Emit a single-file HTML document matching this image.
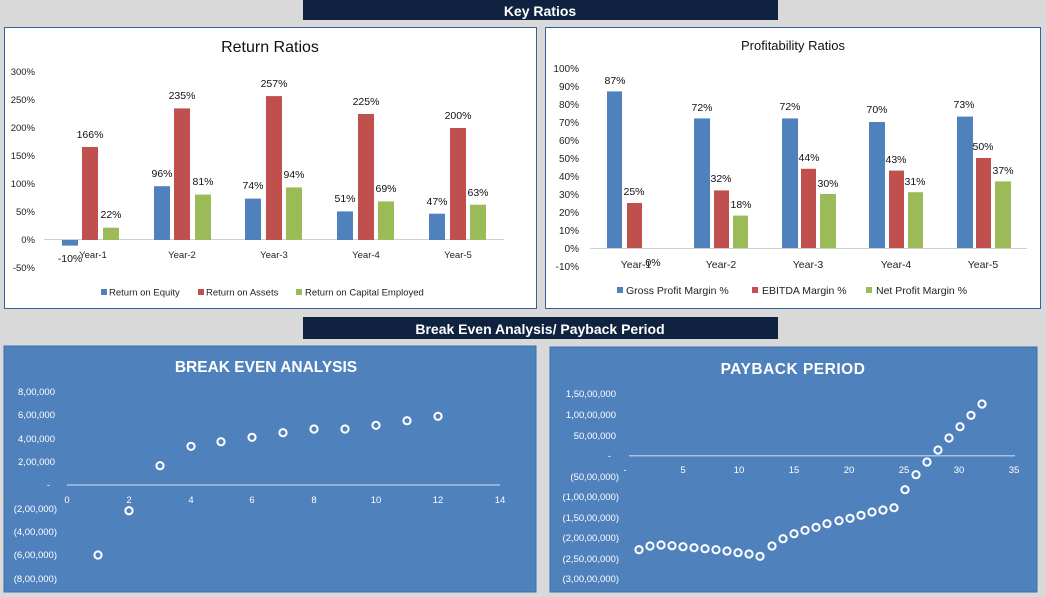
<!DOCTYPE html>
<html><head><meta charset="utf-8"><style>
html,body{margin:0;padding:0;background:#d9d9d9;}
svg{display:block;font-family:"Liberation Sans",sans-serif;}
</style></head><body>
<svg width="1046" height="597" viewBox="0 0 1046 597" xmlns="http://www.w3.org/2000/svg">
<rect width="1046" height="597" fill="#d9d9d9"/>
<rect x="303" y="0" width="475" height="20" fill="#0f2340"/>
<text x="540" y="16" font-size="14" font-weight="bold" fill="#fff" text-anchor="middle">Key Ratios</text>
<rect x="303" y="317" width="475" height="22" fill="#0f2340"/>
<text x="540" y="334" font-size="14" font-weight="bold" fill="#fff" text-anchor="middle">Break Even Analysis/ Payback Period</text>

<rect x="4.5" y="27.5" width="532" height="281" fill="#fff" stroke="#3a5f9a" stroke-width="1"/>
<text x="270" y="52" font-size="16" fill="#111" text-anchor="middle">Return Ratios</text>
<g font-size="9.5" fill="#222" text-anchor="end">
<text x="35" y="75">300%</text><text x="35" y="103">250%</text><text x="35" y="131">200%</text>
<text x="35" y="159">150%</text><text x="35" y="187">100%</text><text x="35" y="215">50%</text>
<text x="35" y="243">0%</text><text x="35" y="271">-50%</text>
</g>
<line x1="44" y1="239.5" x2="504" y2="239.5" stroke="#d0d0d0" stroke-width="1"/>
<g fill="#4f81bd">
<rect x="62" y="240" width="16" height="5.6"/><rect x="154" y="186.2" width="16" height="53.8"/>
<rect x="245" y="198.6" width="16" height="41.4"/><rect x="337" y="211.4" width="16" height="28.6"/>
<rect x="429" y="213.7" width="16" height="26.3"/>
</g>
<g fill="#c0504d">
<rect x="82" y="147" width="16" height="93"/><rect x="174" y="108.4" width="16" height="131.6"/>
<rect x="266" y="96.1" width="16" height="143.9"/><rect x="358" y="114" width="16" height="126"/>
<rect x="450" y="128" width="16" height="112"/>
</g>
<g fill="#9bbb59">
<rect x="103" y="227.7" width="16" height="12.3"/><rect x="195" y="194.6" width="16" height="45.4"/>
<rect x="286" y="187.4" width="16" height="52.6"/><rect x="378" y="201.4" width="16" height="38.6"/>
<rect x="470" y="204.7" width="16" height="35.3"/>
</g>
<g font-size="10.5" fill="#111" text-anchor="middle">
<text x="70" y="262">-10%</text><text x="162" y="177">96%</text><text x="253" y="189">74%</text><text x="345" y="202">51%</text><text x="437" y="205">47%</text>
<text x="90" y="138">166%</text><text x="182" y="99">235%</text><text x="274" y="87">257%</text><text x="366" y="105">225%</text><text x="458" y="119">200%</text>
<text x="111" y="218">22%</text><text x="203" y="185">81%</text><text x="294" y="178">94%</text><text x="386" y="192">69%</text><text x="478" y="196">63%</text>
</g>
<g font-size="9.5" fill="#222" text-anchor="middle">
<text x="93" y="258">Year-1</text><text x="182" y="258">Year-2</text><text x="274" y="258">Year-3</text><text x="366" y="258">Year-4</text><text x="458" y="258">Year-5</text>
</g>
<rect x="101" y="289" width="6" height="6" fill="#4f81bd"/><text x="109" y="295.5" font-size="9.5" fill="#222">Return on Equity</text>
<rect x="198" y="289" width="6" height="6" fill="#c0504d"/><text x="206" y="295.5" font-size="9.5" fill="#222">Return on Assets</text>
<rect x="296" y="289" width="6" height="6" fill="#9bbb59"/><text x="305" y="295.5" font-size="9.5" fill="#222">Return on Capital Employed</text>

<rect x="545.5" y="27.5" width="495" height="281" fill="#fff" stroke="#3a5f9a" stroke-width="1"/>
<text x="793" y="50" font-size="13" fill="#111" text-anchor="middle">Profitability Ratios</text>
<g font-size="10" fill="#222" text-anchor="end">
<text x="579" y="72">100%</text><text x="579" y="90">90%</text><text x="579" y="108">80%</text><text x="579" y="126">70%</text>
<text x="579" y="144">60%</text><text x="579" y="162">50%</text><text x="579" y="180">40%</text><text x="579" y="198">30%</text>
<text x="579" y="216">20%</text><text x="579" y="234">10%</text><text x="579" y="252">0%</text><text x="579" y="270">-10%</text>
</g>
<line x1="590" y1="248.5" x2="1027" y2="248.5" stroke="#d0d0d0" stroke-width="1"/>
<g fill="#4f81bd">
<rect x="607" y="91.4" width="15" height="156.6"/><rect x="694" y="118.4" width="16" height="129.6"/>
<rect x="782" y="118.4" width="16" height="129.6"/><rect x="869" y="122" width="16" height="126"/>
<rect x="957" y="116.6" width="16" height="131.4"/>
</g>
<g fill="#c0504d">
<rect x="627" y="203" width="15" height="45"/><rect x="714" y="190.4" width="15" height="57.6"/>
<rect x="801" y="168.8" width="15" height="79.2"/><rect x="889" y="170.6" width="15" height="77.4"/>
<rect x="976" y="158" width="15" height="90"/>
</g>
<g fill="#9bbb59">
<rect x="733" y="215.6" width="15" height="32.4"/><rect x="820" y="194" width="16" height="54"/>
<rect x="908" y="192.2" width="15" height="55.8"/><rect x="995" y="181.4" width="16" height="66.6"/>
</g>
<g font-size="10.5" fill="#111" text-anchor="middle">
<text x="615" y="84">87%</text><text x="702" y="111">72%</text><text x="790" y="110">72%</text><text x="877" y="113">70%</text><text x="964" y="108">73%</text>
<text x="634" y="195">25%</text><text x="721" y="182">32%</text><text x="809" y="161">44%</text><text x="896" y="163">43%</text><text x="983" y="150">50%</text>
<text x="653" y="266">0%</text><text x="741" y="208">18%</text><text x="828" y="187">30%</text><text x="915" y="185">31%</text><text x="1003" y="174">37%</text>
</g>
<g font-size="10.5" fill="#222" text-anchor="middle">
<text x="636" y="268">Year-1</text><text x="721" y="268">Year-2</text><text x="808" y="268">Year-3</text><text x="896" y="268">Year-4</text><text x="983" y="268">Year-5</text>
</g>
<rect x="617" y="287" width="6" height="6" fill="#4f81bd"/><text x="626" y="294" font-size="10.5" fill="#222">Gross Profit Margin %</text>
<rect x="752" y="287" width="6" height="6" fill="#c0504d"/><text x="762" y="294" font-size="10.5" fill="#222">EBITDA Margin %</text>
<rect x="866" y="287" width="6" height="6" fill="#9bbb59"/><text x="876" y="294" font-size="10.5" fill="#222">Net Profit Margin %</text>

<rect x="4" y="346" width="532" height="246" fill="#4f81bd" stroke="#3f70ae"/>
<text x="266" y="372" font-size="15.5" font-weight="bold" fill="#fff" text-anchor="middle">BREAK EVEN ANALYSIS</text>
<g font-size="9.5" fill="#fff" text-anchor="end">
<text x="55" y="395">8,00,000</text><text x="55" y="418">6,00,000</text><text x="55" y="442">4,00,000</text>
<text x="55" y="465">2,00,000</text><text x="50" y="488">-</text><text x="57" y="512">(2,00,000)</text>
<text x="57" y="535">(4,00,000)</text><text x="57" y="558">(6,00,000)</text><text x="57" y="582">(8,00,000)</text>
</g>
<line x1="67" y1="485" x2="500" y2="485" stroke="#a9c1e0" stroke-width="1.5"/>
<g font-size="9.5" fill="#fff" text-anchor="middle">
<text x="67" y="503">0</text><text x="129" y="503">2</text><text x="191" y="503">4</text><text x="252" y="503">6</text>
<text x="314" y="503">8</text><text x="376" y="503">10</text><text x="438" y="503">12</text><text x="500" y="503">14</text>
</g>
<g fill="#4f81bd" stroke="#fff" stroke-width="2">
<circle cx="98" cy="555" r="3.6"/><circle cx="129" cy="510.7" r="3.6"/><circle cx="160" cy="465.7" r="3.6"/>
<circle cx="191" cy="446.3" r="3.6"/><circle cx="221" cy="441.7" r="3.6"/><circle cx="252" cy="437.3" r="3.6"/>
<circle cx="283" cy="432.7" r="3.6"/><circle cx="314" cy="429" r="3.6"/><circle cx="345" cy="429" r="3.6"/>
<circle cx="376" cy="425.3" r="3.6"/><circle cx="407" cy="420.7" r="3.6"/><circle cx="438" cy="416.3" r="3.6"/>
</g>

<rect x="550" y="347" width="487" height="245" fill="#4f81bd" stroke="#3f70ae"/>
<text x="793" y="374" font-size="15.5" font-weight="bold" fill="#fff" text-anchor="middle" letter-spacing="0.5">PAYBACK PERIOD</text>
<g font-size="9.5" fill="#fff" text-anchor="end">
<text x="616" y="397">1,50,00,000</text><text x="616" y="418">1,00,00,000</text><text x="616" y="439">50,00,000</text>
<text x="611" y="459">-</text><text x="619" y="480">(50,00,000)</text><text x="619" y="500">(1,00,00,000)</text>
<text x="619" y="521">(1,50,00,000)</text><text x="619" y="541">(2,00,00,000)</text><text x="619" y="562">(2,50,00,000)</text>
<text x="619" y="582">(3,00,00,000)</text>
</g>
<line x1="629" y1="455.7" x2="1015" y2="455.7" stroke="#a9c1e0" stroke-width="1.5"/>
<g font-size="9.5" fill="#fff" text-anchor="middle">
<text x="625" y="473">-</text><text x="683" y="473">5</text><text x="739" y="473">10</text><text x="794" y="473">15</text>
<text x="849" y="473">20</text><text x="904" y="473">25</text><text x="959" y="473">30</text><text x="1014" y="473">35</text>
</g>
<g fill="#4f81bd" stroke="#fff" stroke-width="2">
<circle cx="639" cy="549.7" r="3.6"/><circle cx="650" cy="546" r="3.6"/><circle cx="661" cy="545" r="3.6"/>
<circle cx="672" cy="545.7" r="3.6"/><circle cx="683" cy="546.7" r="3.6"/><circle cx="694" cy="547.7" r="3.6"/>
<circle cx="705" cy="548.7" r="3.6"/><circle cx="716" cy="549.7" r="3.6"/><circle cx="727" cy="551" r="3.6"/>
<circle cx="738" cy="552.7" r="3.6"/><circle cx="749" cy="554" r="3.6"/><circle cx="760" cy="556.3" r="3.6"/>
<circle cx="772" cy="546" r="3.6"/><circle cx="783" cy="538.7" r="3.6"/><circle cx="794" cy="533.7" r="3.6"/>
<circle cx="805" cy="530.3" r="3.6"/><circle cx="816" cy="527.3" r="3.6"/><circle cx="827" cy="523.7" r="3.6"/>
<circle cx="839" cy="520.7" r="3.6"/><circle cx="850" cy="518.3" r="3.6"/><circle cx="861" cy="515.3" r="3.6"/>
<circle cx="872" cy="512" r="3.6"/><circle cx="883" cy="510" r="3.6"/><circle cx="894" cy="507.7" r="3.6"/>
<circle cx="905" cy="489.7" r="3.6"/><circle cx="916" cy="474.7" r="3.6"/><circle cx="927" cy="462" r="3.6"/>
<circle cx="938" cy="450" r="3.6"/><circle cx="949" cy="438" r="3.6"/><circle cx="960" cy="426.7" r="3.6"/>
<circle cx="971" cy="415.3" r="3.6"/><circle cx="982" cy="404" r="3.6"/>
</g>
</svg>
</body></html>
